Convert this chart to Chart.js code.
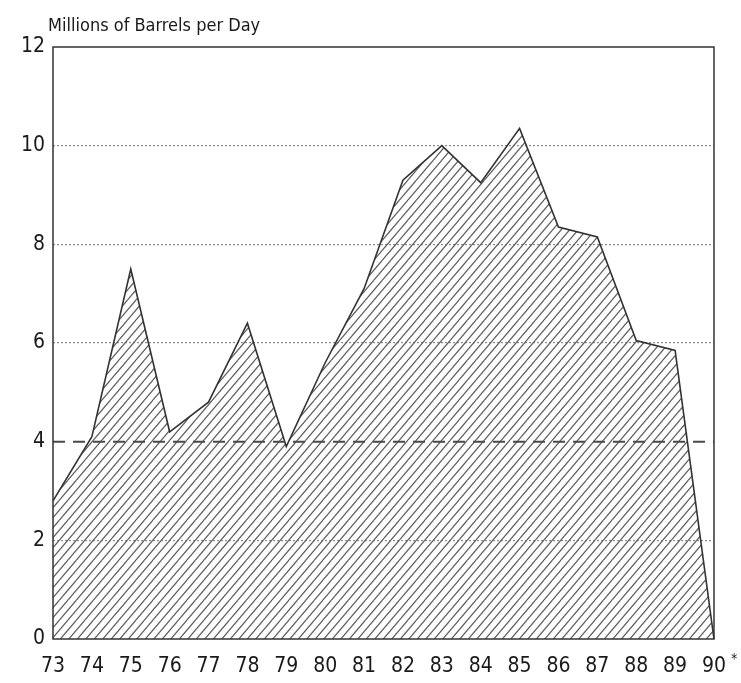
<!DOCTYPE html>
<html>
<head>
<meta charset="utf-8">
<script src="https://cdn.jsdelivr.net/npm/chart.js@4"></script>
<style>
html,body{margin:0;padding:0;background:#fff;}
#wrap{width:741px;height:683px;position:relative;}
</style>
</head>
<body>
<div id="wrap"><canvas id="c" width="741" height="683"></canvas></div>
<script>
const years = ['73','74','75','76','77','78','79','80','81','82','83','84','85','86','87','88','89','90'];
const production = [2.8,4.1,7.5,4.2,4.8,6.4,3.9,5.6,7.1,9.3,10.0,9.25,10.35,8.35,8.15,6.05,5.85,0];
const referenceLevel = [4,4,4,4,4,4,4,4,4,4,4,4,4,4,4,4,4,4];
const yTicks = [0,2,4,6,8,10,12];
const titleText = 'Millions of Barrels per Day';

const FONT = "'DejaVu Sans Condensed', 'Liberation Sans Narrow', 'Liberation Sans', Arial, sans-serif";

function makeHatch(){
  const w = 8.5;
  const p = document.createElement('canvas');
  p.width = 17; p.height = 20;
  const g = p.getContext('2d');
  g.strokeStyle = '#5e5e5e';
  g.lineWidth = 1.2;
  g.beginPath();
  for (let k = -3; k <= 3; k++) {
    g.moveTo(k * w - 2*w, 40); g.lineTo(k * w + 2*w, 0);
  }
  g.stroke();
  return document.getElementById('c').getContext('2d').createPattern(p, 'repeat');
}

const decor = {
  id: 'decor',
  afterDraw(chart){
    const ctx = chart.ctx;
    const a = chart.chartArea;
    ctx.save();
    ctx.strokeStyle = '#333';
    ctx.lineWidth = 1.5;
    ctx.strokeRect(a.left, a.top, a.right - a.left, a.bottom - a.top);
    ctx.fillStyle = '#1a1a1a';
    ctx.font = "18px " + FONT;
    ctx.textBaseline = 'alphabetic';
    ctx.textAlign = 'left';
    ctx.fillText(titleText, 48, 31);
    ctx.font = "14px " + FONT;
    ctx.fillText('*', 731, 663);
    ctx.restore();
  }
};

new Chart(document.getElementById('c'), {
  type: 'line',
  data: {
    labels: years,
    datasets: [
      {
        data: production,
        borderColor: '#333',
        borderWidth: 1.6,
        backgroundColor: makeHatch(),
        fill: 'origin',
        pointRadius: 0,
        tension: 0,
        order: 2
      },
      {
        data: referenceLevel,
        borderColor: '#4a4a4a',
        borderWidth: 2,
        borderDash: [12, 8],
        fill: false,
        pointRadius: 0,
        order: 1
      }
    ]
  },
  options: {
    responsive: false,
    animation: false,
    devicePixelRatio: 1,
    layout: { padding: { left: 0, right: 22, top: 47, bottom: 0 } },
    plugins: { legend: { display: false }, tooltip: { enabled: false } },
    scales: {
      x: {
        offset: false,
        grid: { display: false, drawTicks: false },
        border: { display: false },
        ticks: { color: '#1a1a1a', font: { family: FONT, size: 21 }, padding: 15, maxRotation: 0, autoSkip: false },
        afterFit(s){ s.height = 44; }
      },
      y: {
        min: 0, max: 12,
        afterBuildTicks(s){ s.ticks = yTicks.map(v => ({ value: v })); },
        grid: {
          color: (c) => (c.tick && (c.tick.value === 0 || c.tick.value === 12 || c.tick.value === 4)) ? 'rgba(0,0,0,0)' : '#8a8a8a',
          lineWidth: 1.2,
          drawTicks: false
        },
        border: { display: false, dash: [2, 2] },
        ticks: { color: '#1a1a1a', font: { family: FONT, size: 21 }, padding: 8 },
        afterFit(s){ s.width = 53; }
      }
    }
  },
  plugins: [decor]
});
</script>
</body>
</html>
